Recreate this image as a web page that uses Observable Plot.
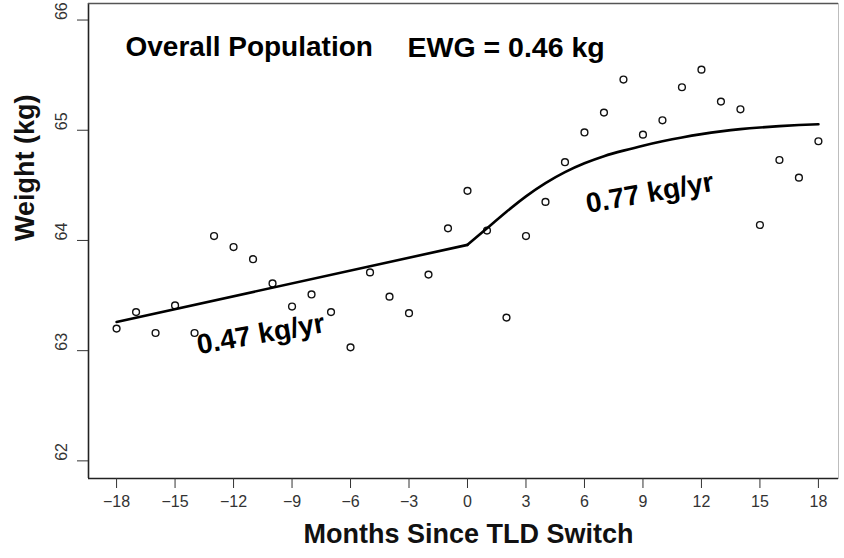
<!DOCTYPE html>
<html>
<head>
<meta charset="utf-8">
<script src="https://cdn.jsdelivr.net/npm/d3@7"></script>
<script src="https://cdn.jsdelivr.net/npm/@observablehq/plot@0.6"></script>
<style>
  html, body { margin: 0; padding: 0; background: #fff; }
  #chart svg { display: block; }
</style>
</head>
<body>
<div id="chart"></div>
<script>
// Monthly mean weight around the TLD switch (overall population)
const months = [-18, -17, -16, -15, -14, -13, -12, -11, -10, -9, -8, -7, -6, -5, -4, -3, -2, -1,
  0, 1, 2, 3, 4, 5, 6, 7, 8, 9, 10, 11, 12, 13, 14, 15, 16, 17, 18];
const weights = [63.20, 63.35, 63.16, 63.41, 63.16, 64.04, 63.94, 63.83, 63.61, 63.40, 63.51, 63.35,
  63.03, 63.71, 63.49, 63.34, 63.69, 64.11, 64.45, 64.09, 63.30, 64.04, 64.35, 64.71, 64.98, 65.16,
  65.46, 64.96, 65.09, 65.39, 65.55, 65.26, 65.19, 64.14, 64.73, 64.57, 64.90];

// Fitted trajectory before the switch (linear)
const preMonths = [-18, 0];
const preFit = [63.26, 63.96];

// Fitted trajectory after the switch
const postMonths = [0, 1, 2, 3, 4, 5, 6, 7, 8, 9, 10, 11, 12, 13, 14, 15, 16, 17, 18];
const postFit = [63.96, 64.11, 64.26, 64.40, 64.52, 64.62, 64.70, 64.765, 64.815, 64.86, 64.90,
  64.935, 64.965, 64.99, 65.01, 65.025, 65.037, 65.047, 65.055];

const xTicks = [-18, -15, -12, -9, -6, -3, 0, 3, 6, 9, 12, 15, 18];
const yTicks = [62, 63, 64, 65, 66];

const titleLeft = "Overall Population";
const titleRight = "EWG = 0.46 kg";
const slopePre = "0.47 kg/yr";
const slopePost = "0.77 kg/yr";
const xLabel = "Months Since TLD Switch";
const yLabel = "Weight (kg)";

const points = months.map((m, i) => ({month: m, weight: weights[i]}));
const pre = preMonths.map((m, i) => ({month: m, weight: preFit[i]}));
const post = postMonths.map((m, i) => ({month: m, weight: postFit[i]}));

const xDomain = [-19.44, 19.03];
const yDomain = [61.84, 66.15];
const font = "'Liberation Sans', Arial, sans-serif";

const chart = Plot.plot({
  width: 844,
  height: 558,
  marginLeft: 88,
  marginRight: 6,
  marginTop: 3,
  marginBottom: 80,
  style: {fontFamily: font, background: "#fff"},
  x: {domain: xDomain},
  y: {domain: yDomain},
  marks: [
    Plot.frame({stroke: "#bdbdbd"}),
    Plot.ruleX([xDomain[0]], {stroke: "#222", strokeWidth: 1.6}),
    Plot.ruleY([yDomain[0]], {stroke: "#222", strokeWidth: 1.6}),
    Plot.ruleY([yDomain[1]], {stroke: "#555", strokeWidth: 1.4}),
    Plot.axisX({ticks: xTicks, tickSize: 10, tickPadding: 7, fontSize: 16, stroke: "#333",
      color: "#333", label: null}),
    Plot.axisY({ticks: yTicks, tickSize: 11, tickFormat: () => "", stroke: "#333", label: null}),
    Plot.text(yTicks, {y: d => d, text: d => String(d), frameAnchor: "left", dx: -27,
      rotate: -90, fontSize: 16, fill: "#333"}),
    Plot.dot(points, {x: "month", y: "weight", r: 3.4, stroke: "#111", strokeWidth: 1.4, fill: "none"}),
    Plot.line(pre, {x: "month", y: "weight", stroke: "#000", strokeWidth: 2.6}),
    Plot.line(post, {x: "month", y: "weight", stroke: "#000", strokeWidth: 2.6, curve: "natural"}),
    Plot.text([slopePre], {x: -10.6, y: 63.15, text: d => d, rotate: -10, fontSize: 28,
      fontWeight: "bold", fill: "#000"}),
    Plot.text([slopePost], {x: 9.35, y: 64.43, text: d => d, rotate: -10, fontSize: 28,
      fontWeight: "bold", fill: "#000"}),
    Plot.text([titleLeft], {frameAnchor: "top-left", dx: 37, dy: 44, lineAnchor: "middle",
      textAnchor: "start", text: d => d, fontSize: 28, fontWeight: "bold", fill: "#000"}),
    Plot.text([titleRight], {frameAnchor: "top-left", dx: 319, dy: 44, lineAnchor: "middle",
      textAnchor: "start", text: d => d, fontSize: 28.5, fontWeight: "bold", fill: "#000"}),
    Plot.text([xLabel], {frameAnchor: "bottom", dx: 5, dy: 64, text: d => d, fontSize: 27,
      fontWeight: "bold", fill: "#111"}),
    Plot.text([yLabel], {frameAnchor: "left", dx: -63, rotate: -90, text: d => d, fontSize: 27,
      fontWeight: "bold", fill: "#111"})
  ]
});

document.getElementById("chart").appendChild(chart);
</script>
</body>
</html>
